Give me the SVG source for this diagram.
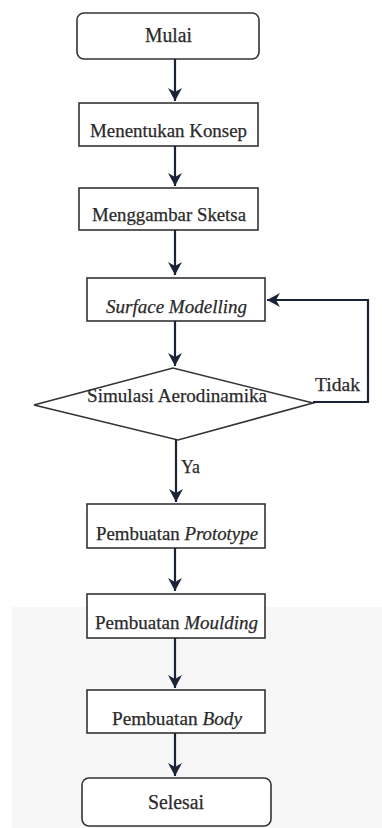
<svg xmlns="http://www.w3.org/2000/svg" width="382" height="828" viewBox="0 0 382 828">
<defs>
<marker id="ah" markerWidth="14" markerHeight="14" viewBox="0 0 14 14" refX="13" refY="7" orient="auto" markerUnits="userSpaceOnUse">
<path d="M0,0 L13,7 L0,14 L4,7 Z" fill="#1b2336"/>
</marker>
<style>
.box{fill:#fff;stroke:#333;stroke-width:1.6}
.t{font-family:"Liberation Serif","Times New Roman",serif;font-size:19px;fill:#2a2a2a;stroke:#2a2a2a;stroke-width:0.25;text-anchor:middle}
.i{font-style:italic}
.c{fill:none;stroke:#1b2336;stroke-width:2.2}
</style>
</defs>
<rect x="12" y="607" width="370" height="221" fill="#f7f7f7"/>
<g id="n-mulai"><rect class="box" x="77" y="13" width="182" height="46" rx="7"/><text class="t" x="168.5" y="42" style="font-size:20px" textLength="47" lengthAdjust="spacingAndGlyphs">Mulai</text></g>
<g id="n-konsep"><rect class="box" x="79" y="103" width="179" height="43"/><text class="t" x="168.5" y="137" textLength="157" lengthAdjust="spacingAndGlyphs">Menentukan Konsep</text></g>
<g id="n-sketsa"><rect class="box" x="79" y="188" width="179" height="42"/><text class="t" x="169" y="221" textLength="154" lengthAdjust="spacingAndGlyphs">Menggambar Sketsa</text></g>
<g id="n-surface"><rect class="box" x="87" y="278" width="178" height="43"/><text class="t i" x="176.5" y="313" textLength="141" lengthAdjust="spacingAndGlyphs">Surface Modelling</text></g>
<g id="n-simulasi"><polygon class="box" points="34,405 173,368 313,403 178,440"/><text class="t" x="177" y="402" textLength="180" lengthAdjust="spacingAndGlyphs">Simulasi Aerodinamika</text></g>
<g id="n-prototype"><rect class="box" x="87" y="504" width="178" height="44"/><text class="t" x="177" y="540" textLength="162" lengthAdjust="spacingAndGlyphs">Pembuatan <tspan class="i">Prototype</tspan></text></g>
<g id="n-moulding"><rect class="box" x="87" y="594" width="178" height="44"/><text class="t" x="176.5" y="629" textLength="163" lengthAdjust="spacingAndGlyphs">Pembuatan <tspan class="i">Moulding</tspan></text></g>
<g id="n-body"><rect class="box" x="87" y="690" width="178" height="43"/><text class="t" x="177" y="725" textLength="130" lengthAdjust="spacingAndGlyphs">Pembuatan <tspan class="i">Body</tspan></text></g>
<g id="n-selesai"><rect class="box" x="82" y="778" width="189" height="48" rx="7"/><text class="t" x="176" y="809" style="font-size:20px" textLength="56" lengthAdjust="spacingAndGlyphs">Selesai</text></g>
<g id="connectors">
<line class="c" x1="175" y1="59" x2="175" y2="101" marker-end="url(#ah)"/>
<line class="c" x1="175" y1="146" x2="175" y2="186" marker-end="url(#ah)"/>
<line class="c" x1="175" y1="230" x2="175" y2="275" marker-end="url(#ah)"/>
<line class="c" x1="175" y1="321" x2="175" y2="366" marker-end="url(#ah)"/>
<line class="c" x1="176" y1="440" x2="176" y2="502" marker-end="url(#ah)"/>
<line class="c" x1="175" y1="548" x2="175" y2="591" marker-end="url(#ah)"/>
<line class="c" x1="175" y1="638" x2="175" y2="688" marker-end="url(#ah)"/>
<line class="c" x1="175" y1="733" x2="175" y2="776" marker-end="url(#ah)"/>
<polyline class="c" points="313,402 368,402 368,300 267,300" stroke-width="3" marker-end="url(#ah)"/>
<text class="t" x="337.5" y="390.5" textLength="45" lengthAdjust="spacingAndGlyphs">Tidak</text>
<text class="t" x="190.5" y="473" textLength="19" lengthAdjust="spacingAndGlyphs">Ya</text>
</g>
</svg>
